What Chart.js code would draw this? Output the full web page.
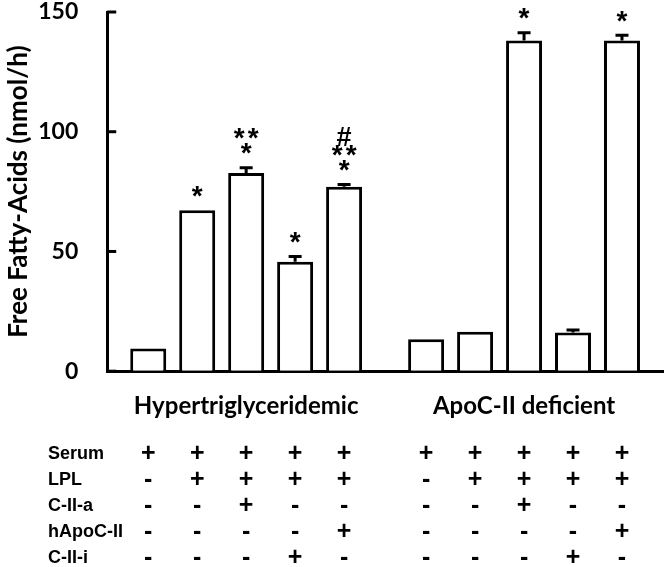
<!DOCTYPE html>
<html>
<head>
<meta charset="utf-8">
<script src="https://cdn.jsdelivr.net/npm/chart.js@4/dist/chart.umd.min.js"></script>
<style>
html,body{margin:0;padding:0;background:#fff;}
#wrap{width:666px;height:567px;}
</style>
</head>
<body>
<div id="wrap"><canvas id="c" width="666" height="567"></canvas></div>
<script>
// ---- data ----
const groups = ['Hypertriglyceridemic', 'ApoC-II deficient'];
const conditionNames = ['Serum', 'Serum+LPL', 'Serum+LPL+C-II-a', 'Serum+LPL+C-II-i', 'Serum+LPL+hApoC-II'];
// values per condition: [Hypertriglyceridemic, ApoC-II deficient]
const cond1 = [9.5, 13.3];
const cond2 = [67.2, 16.5];
const cond3 = [82.8, 138.1];
const cond4 = [45.7, 16.2];
const cond5 = [77.0, 138.1];
const err1 = [0, 0];
const err2 = [0, 0];
const err3 = [2.2, 3.2];
const err4 = [2.2, 1.0];
const err5 = [1.0, 2.2];
// significance marks (bottom line first)
const marks1 = [[], []];
const marks2 = [['*'], []];
const marks3 = [['*', '**'], ['*']];
const marks4 = [['*'], []];
const marks5 = [['*', '**', '#'], ['*']];
const yTicks = [0, 50, 100, 150];
// treatment table (order: group 1 bars then group 2 bars)
const rowLabels = ['Serum', 'LPL', 'C-II-a', 'hApoC-II', 'C-II-i'];
const rowSerum = ['+','+','+','+','+','+','+','+','+','+'];
const rowLPL   = ['-','+','+','+','+','-','+','+','+','+'];
const rowC2a   = ['-','-','+','-','-','-','-','+','-','-'];
const rowHApo  = ['-','-','-','-','+','-','-','-','-','+'];
const rowC2i   = ['-','-','-','+','-','-','-','-','+','-'];

const values = [cond1, cond2, cond3, cond4, cond5];
const errors = [err1, err2, err3, err4, err5];
const marks = [marks1, marks2, marks3, marks4, marks5];
const tableRows = [rowSerum, rowLPL, rowC2a, rowHApo, rowC2i];

const BOLD = 'Lato';
const SANS = '"Liberation Sans", Arial, sans-serif';

const errPlugin = {
  id: 'errAndMarks',
  afterDatasetsDraw(chart) {
    const ctx = chart.ctx;
    const ys = chart.scales.y;
    ctx.save();
    ctx.strokeStyle = '#000';
    ctx.fillStyle = '#000';
    ctx.lineWidth = 3;
    // inward tick marks on the y axis
    ys.ticks.forEach(t => {
      const py = ys.getPixelForValue(t.value);
      ctx.beginPath();
      ctx.moveTo(ys.right, py);
      ctx.lineTo(ys.right + 9, py);
      ctx.stroke();
    });
    ctx.textAlign = 'center';
    ctx.textBaseline = 'alphabetic';
    values.forEach((vals, d) => {
      const meta = chart.getDatasetMeta(d);
      vals.forEach((v, g) => {
        const el = meta.data[g];
        const e = errors[d][g];
        const top = ys.getPixelForValue(v + e);
        if (e > 0) {
          ctx.beginPath();
          ctx.moveTo(el.x, el.y);
          ctx.lineTo(el.x, top);
          ctx.moveTo(el.x - 6.5, top);
          ctx.lineTo(el.x + 6.5, top);
          ctx.stroke();
        }
        const lines = marks[d][g];
        let yc = top - 19;
        lines.forEach((t) => {
          const chars = t.split('');
          const step = 14;
          chars.forEach((ch, i) => {
            const cx = el.x + (i - (chars.length - 1) / 2) * step;
            ctx.font = (ch === '#' ? 'bold 27px ' : 'bold 28px ') + SANS;
            const m = ctx.measureText(ch);
            const off = (m.actualBoundingBoxAscent - m.actualBoundingBoxDescent) / 2;
            ctx.fillText(ch, cx, yc + off);
          });
          yc -= (t === '**' ? 14 : 15);
        });
      });
    });
    ctx.restore();
  },
  afterDraw(chart) {
    const ctx = chart.ctx;
    const xs = chart.scales.x;
    ctx.save();
    ctx.fillStyle = '#000';
    ctx.textBaseline = 'middle';
    const y0 = xs.bottom + 33;
    const rowH = 26;
    rowLabels.forEach((lab, r) => {
      const y = y0 + r * rowH;
      ctx.font = 'bold 18px ' + SANS;
      ctx.textAlign = 'left';
      ctx.fillText(lab, 48, y);
      ctx.font = 'bold 25px ' + SANS;
      ctx.textAlign = 'center';
      tableRows[r].forEach((s, k) => {
        const g = Math.floor(k / 5);
        const d = k % 5;
        const el = chart.getDatasetMeta(d).data[g];
        ctx.fillText(s, el.x, y);
      });
    });
    ctx.restore();
  }
};

new Chart(document.getElementById('c'), {
  type: 'bar',
  data: {
    labels: groups,
    datasets: values.map((vals, d) => ({
      label: conditionNames[d],
      data: vals,
      backgroundColor: '#ffffff',
      borderColor: '#000000',
      borderWidth: 3,
      borderSkipped: 'start',
      categoryPercentage: 0.881,
      barPercentage: 0.735
    }))
  },
  options: {
    responsive: false,
    animation: false,
    devicePixelRatio: 1,
    layout: { padding: { left: 3, right: 3, top: 12, bottom: 146 } },
    plugins: { legend: { display: false }, tooltip: { enabled: false } },
    scales: {
      x: {
        grid: { display: true, drawOnChartArea: false, drawTicks: true, tickLength: 21, tickColor: 'rgba(0,0,0,0)' },
        border: { display: true, color: '#000', width: 3 },
        ticks: {
          color: '#000',
          padding: 0,
          font: { family: BOLD, size: 24, weight: 'bold', lineHeight: 1.2 }
        }
      },
      y: {
        min: 0,
        max: 150,
        afterBuildTicks(scale) { scale.ticks = yTicks.map(v => ({ value: v })); },
        grid: { display: true, drawOnChartArea: false, drawTicks: true, tickLength: 29, tickColor: 'rgba(0,0,0,0)' },
        border: { display: true, color: '#000', width: 3 },
        ticks: {
          color: '#000',
          padding: 0,
          font: { family: BOLD, size: 23, weight: 'bold', lineHeight: 1 }
        },
        title: {
          display: true,
          text: 'Free Fatty-Acids (nmol/h)',
          color: '#000',
          padding: { top: 0, bottom: 4 },
          font: { family: BOLD, size: 26, weight: 'bold', lineHeight: 1.2 }
        }
      }
    }
  },
  plugins: [errPlugin]
});
</script>
</body>
</html>
